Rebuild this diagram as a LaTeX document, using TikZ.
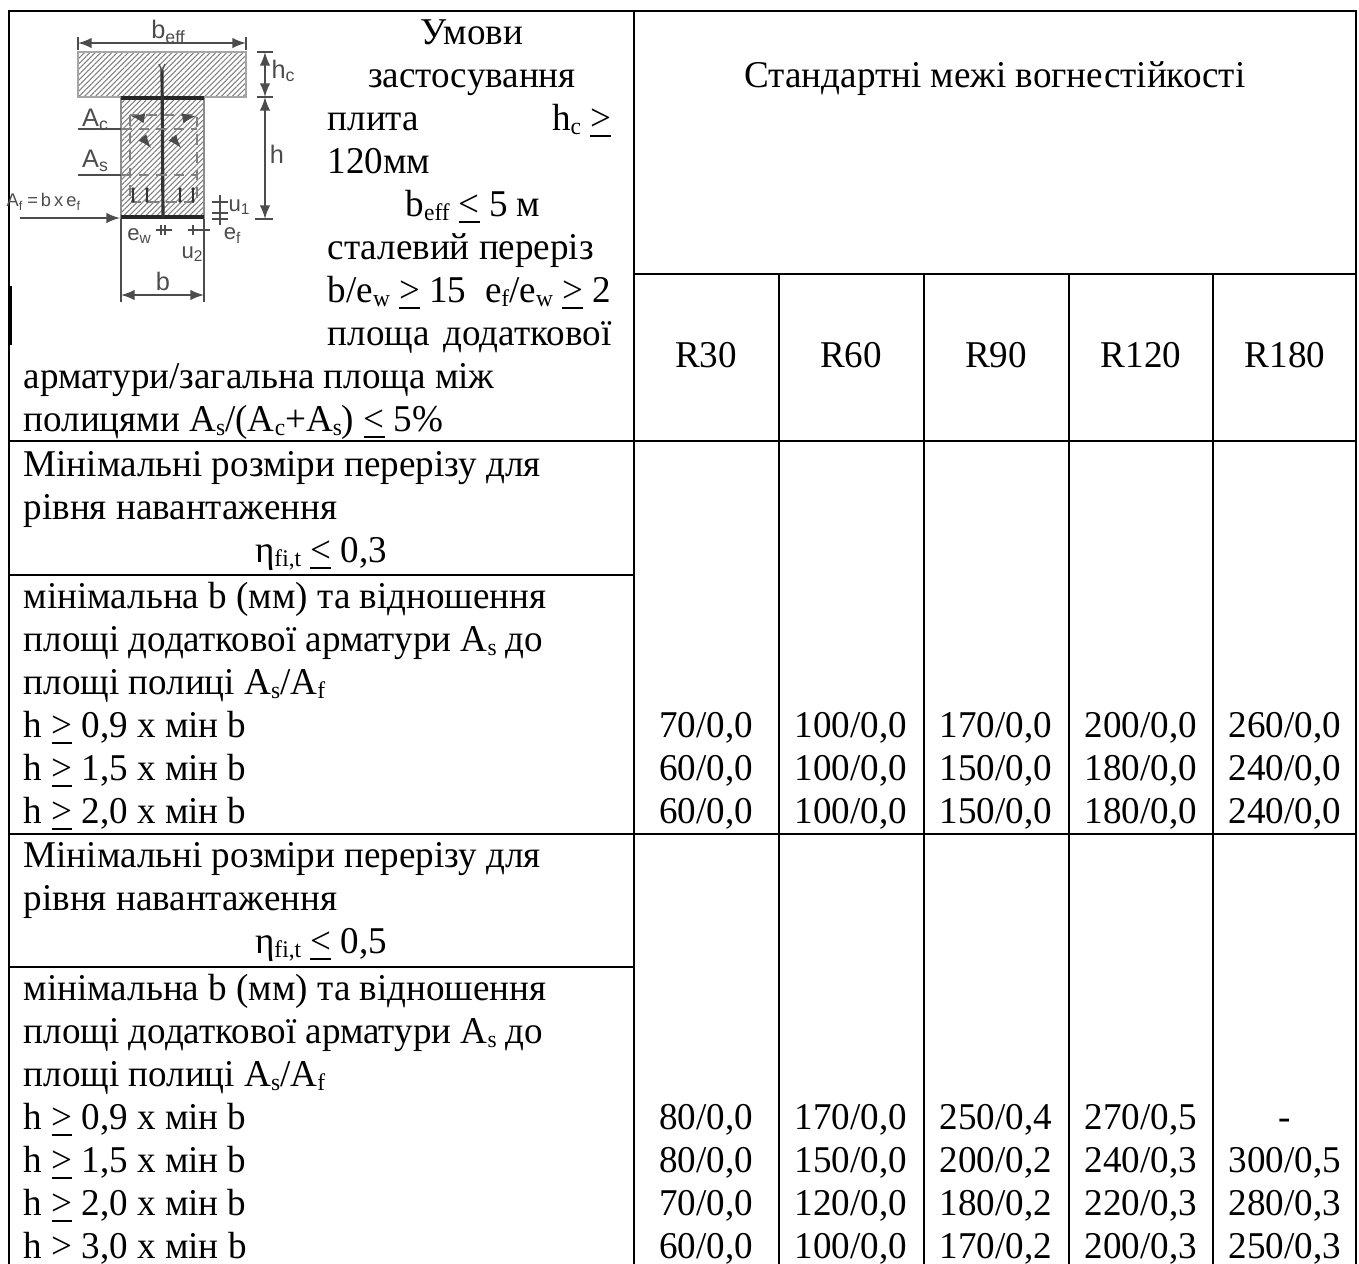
\documentclass[tikz,border=0pt]{standalone}
\usepackage{fontspec}
\setmainfont{Liberation Serif}[FakeStretch=0.98]
\setsansfont{Liberation Sans}
\usepackage{tikz}
\usetikzlibrary{arrows}
\usetikzlibrary{patterns.meta}

\newcommand{\gequ}{\underline{>}}
\newcommand{\lequ}{\underline{<}}
\newcommand{\sub}[1]{\raisebox{-1pt}{\fontsize{6.8}{8}\selectfont #1}}
% one row of values, five columns
\newcommand{\valrow}[7]{%
  \node[val] (#2a) at (706,#1) {#3};
  \node[val] (#2b) at (851,#1) {#4};
  \node[val] (#2c) at (996,#1) {#5};
  \node[val] (#2d) at (1141,#1) {#6};
  \node[val] (#2e) at (1285,#1) {#7};}

\begin{document}
\begin{tikzpicture}[x=0.01cm,y=-0.01cm,
    font=\fontsize{10.76}{12.2}\selectfont,
    grid/.style={line width=0.75pt,black},
    txt/.style={anchor=base west,inner sep=0pt},
    ctxt/.style={anchor=base,inner sep=0pt},
    rtxt/.style={anchor=base east,inner sep=0pt},
    val/.style={anchor=base,inner sep=0pt},
    sk/.style={black!70,line width=0.35pt},
    hatch/.style={pattern={Lines[angle=45,distance=1.1pt,line width=0.3pt]},pattern color=black!50},
    sklab/.style={inner sep=0pt,text=black!70,font=\sffamily\fontsize{6.3}{7}\selectfont},
    biglab/.style={sklab,font=\sffamily\fontsize{7.2}{8}\selectfont}]
    \useasboundingbox (0,0) rectangle (1359,1264);
    % Grid
    \draw[grid] (9,1264) -- (9,11) -- (1356,11) -- (1356,1264);
    \draw[grid] (634,11) -- (634,1264);
    \draw[grid] (634,274) -- (1356,274);
    \draw[grid] (9,441) -- (1356,441);
    \draw[grid] (9,834) -- (1356,834);
    \draw[grid] (9,575) -- (634,575);
    \draw[grid] (9,967) -- (634,967);
    \foreach \x in {779,924,1069,1213}
        \draw[grid] (\x,274) -- (\x,1264);
    % Sketch: slab and steel section
    \draw[black!35,line width=0.3pt,hatch] (78,52) rectangle (246,97);
    \draw[black!45,line width=0.3pt,hatch] (121,97) rectangle (204,218);
    \draw[black!85,line width=1.3pt] (121,98) -- (204,98);
    \draw[black!85,line width=1.3pt] (121,217) -- (204,217);
    \draw[black!80,line width=0.9pt] (162,70) -- (163,217);
    \draw[sk] (159,64) -- (162,71) -- (165,64);
    \draw[sk,black!50,densely dashed] (130,115) rectangle (197,202);
    \draw[sk,black!50,densely dashed] (121,129) -- (197,129);
    \draw[sk,black!50,densely dashed] (121,175) -- (197,175);
    \draw[sk] (78,129) -- (121,129);
    \draw[sk] (78,175) -- (121,175);
    \draw[sk,-latex] (142,137) -- (151,148);
    \draw[sk,-latex] (172,137) -- (181,148);
    \draw[sk,-latex] (137,117) -- (131,116);
    \draw[sk,-latex] (190,117) -- (196,116);
    \foreach \x in {133,147,180,193} {
        \draw[black!80,line width=0.8pt] (\x,189) -- (\x,201);
        \fill[black!80] (\x,189) circle (1.8);
        \fill[black!80] (\x,201) circle (1.8);
    }
    % Sketch: dimensions
    \draw[sk] (78,37) -- (78,50);
    \draw[sk] (246,37) -- (246,50);
    \draw[sk,latex-latex] (78,43) -- (246,43);
    \draw[sk] (257,52) -- (273,52);
    \draw[sk] (257,97) -- (273,97);
    \draw[sk] (255,219) -- (273,219);
    \draw[sk,latex-latex] (265,52) -- (265,97);
    \draw[sk,latex-latex] (265,97) -- (265,219);
    \draw[sk,-latex] (20,218) -- (120,218);
    \draw[sk] (220,195) -- (220,225);
    \draw[sk] (212,202) -- (228,202);
    \draw[sk] (212,213) -- (228,213);
    \draw[sk] (212,219) -- (228,219);
    \draw[sk] (156,230) -- (172,230);
    \draw[sk] (161,225) -- (161,235);
    \draw[sk] (165,225) -- (165,235);
    \draw[sk] (188,230) -- (210,230);
    \draw[sk] (193,225) -- (193,235);
    \draw[sk] (204,225) -- (204,235);
    \draw[sk] (121,219) -- (121,302);
    \draw[sk] (204,219) -- (204,302);
    \draw[sk,latex-latex] (121,295) -- (204,295);
    \draw[black,line width=1.3pt] (10,286) -- (10,345);
    % Sketch: labels
    \node[biglab] (beff) at (169,32) {b\textsubscript{eff}};
    \node[biglab] (hc) at (284,71) {h\textsubscript{c}};
    \node[biglab] (hh) at (277,154) {h};
    \node[biglab] (ac) at (96,120) {A\textsubscript{c}};
    \node[biglab] (as) at (96,161) {A\textsubscript{s}};
    \node[sklab,anchor=west,font=\sffamily\fontsize{5.2}{6}\selectfont] (af) at (6,202) {A\textsubscript{f}\,=\,b\,x\,e\textsubscript{f}};
    \node[sklab] (u1) at (240,207) {u\textsubscript{1}};
    \node[sklab] (ef) at (233,236) {e\textsubscript{f}};
    \node[sklab] (ew) at (140,236) {e\textsubscript{w}};
    \node[sklab] (u2) at (193,254) {u\textsubscript{2}};
    \node[biglab] (bb) at (163,281) {b};
    % Header
    \node[ctxt] (h1) at (472,45) {Умови};
    \node[ctxt] (h2) at (472,88) {застосування};
    \node[txt] (h3a) at (327,131) {плита};
    \node[rtxt] (h3b) at (612,131) {h\sub{c} \gequ};
    \node[txt] (h4) at (327,174) {120мм};
    \node[ctxt] (h5) at (473,217) {b\sub{eff} \lequ{} 5 м};
    \node[txt] (h6) at (327,260) {сталевий переріз};
    \node[txt] (h7) at (327,303) {b/e\sub{w} \gequ{} 15\ \ e\sub{f}/e\sub{w} \gequ{} 2};
    \node[txt] (h8a) at (327,346) {площа};
    \node[rtxt] (h8b) at (612,346) {додаткової};
    \node[txt] (h9) at (23,389) {арматури/загальна площа між};
    \node[txt] (h10) at (23,432) {полицями A\sub{s}/(A\sub{c}+A\sub{s}) \lequ{} 5\%};
    \node[ctxt] (std) at (995,88) {Стандартні межі вогнестійкості};
    \foreach \r/\x in {R30/706,R60/851,R90/996,R120/1141,R180/1285}
        \node[ctxt] (\r) at (\x,368) {\r};
    % Load level 0,3
    \node[txt] (a1) at (23,477) {Мінімальні розміри перерізу для};
    \node[txt] (a2) at (23,520) {рівня навантаження};
    \node[ctxt] (a3) at (321,563) {η\sub{fi,t} \lequ{} 0,3};
    \node[txt] (b1) at (23,609) {мінімальна b (мм) та відношення};
    \node[txt] (b2) at (23,652) {площі додаткової арматури A\sub{s} до};
    \node[txt] (b3) at (23,695) {площі полиці A\sub{s}/A\sub{f}};
    \node[txt] (b4) at (23,738) {h \gequ{} 0,9 x мін b};
    \node[txt] (b5) at (23,781) {h \gequ{} 1,5 x мін b};
    \node[txt] (b6) at (23,824) {h \gequ{} 2,0 x мін b};
    \valrow{738}{pa}{70/0,0}{100/0,0}{170/0,0}{200/0,0}{260/0,0}
    \valrow{781}{pb}{60/0,0}{100/0,0}{150/0,0}{180/0,0}{240/0,0}
    \valrow{824}{pc}{60/0,0}{100/0,0}{150/0,0}{180/0,0}{240/0,0}
    % Load level 0,5
    \node[txt] (c1) at (23,868) {Мінімальні розміри перерізу для};
    \node[txt] (c2) at (23,911) {рівня навантаження};
    \node[ctxt] (c3) at (321,954) {η\sub{fi,t} \lequ{} 0,5};
    \node[txt] (d1) at (23,1001) {мінімальна b (мм) та відношення};
    \node[txt] (d2) at (23,1044) {площі додаткової арматури A\sub{s} до};
    \node[txt] (d3) at (23,1087) {площі полиці A\sub{s}/A\sub{f}};
    \node[txt] (d4) at (23,1130) {h \gequ{} 0,9 x мін b};
    \node[txt] (d5) at (23,1173) {h \gequ{} 1,5 x мін b};
    \node[txt] (d6) at (23,1216) {h \gequ{} 2,0 x мін b};
    \node[txt] (d7) at (23,1259) {h > 3,0 x мін b};
    \valrow{1130}{qa}{80/0,0}{170/0,0}{250/0,4}{270/0,5}{-}
    \valrow{1173}{qb}{80/0,0}{150/0,0}{200/0,2}{240/0,3}{300/0,5}
    \valrow{1216}{qc}{70/0,0}{120/0,0}{180/0,2}{220/0,3}{280/0,3}
    \valrow{1259}{qd}{60/0,0}{100/0,0}{170/0,2}{200/0,3}{250/0,3}
\end{tikzpicture}
\end{document}
